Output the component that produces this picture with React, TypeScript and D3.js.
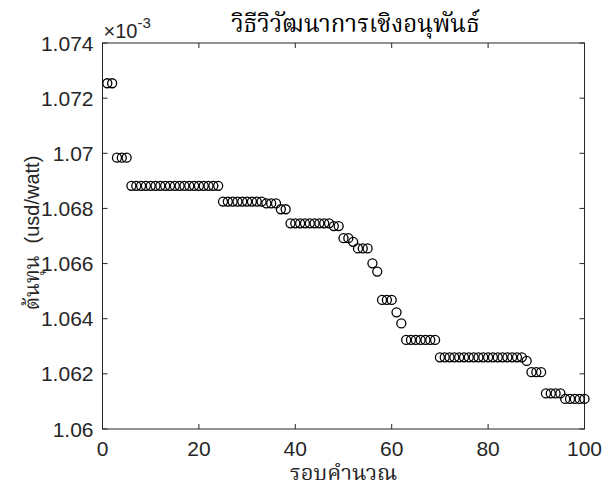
import React from 'react';
import * as d3 from 'd3';

// cost per iteration, in units of 1e-3 usd/watt
const costs: number[] = [
  1.07254, 1.07254,
  1.06984, 1.06984, 1.06984,
  1.06882, 1.06882, 1.06882, 1.06882, 1.06882, 1.06882, 1.06882, 1.06882, 1.06882, 1.06882,
  1.06882, 1.06882, 1.06882, 1.06882, 1.06882, 1.06882, 1.06882, 1.06882, 1.06882,
  1.06825, 1.06825, 1.06825, 1.06825, 1.06825, 1.06825, 1.06825, 1.06825, 1.06825,
  1.06818, 1.06818, 1.06818,
  1.06797, 1.06797,
  1.06746, 1.06746, 1.06746, 1.06746, 1.06746, 1.06746, 1.06746, 1.06746, 1.06746,
  1.06736, 1.06736,
  1.06692, 1.06692,
  1.06679,
  1.06655, 1.06655, 1.06655,
  1.06601,
  1.06571,
  1.06468, 1.06468, 1.06468,
  1.06423,
  1.06383,
  1.06323, 1.06323, 1.06323, 1.06323, 1.06323, 1.06323, 1.06323,
  1.0626, 1.0626, 1.0626, 1.0626, 1.0626, 1.0626, 1.0626, 1.0626, 1.0626,
  1.0626, 1.0626, 1.0626, 1.0626, 1.0626, 1.0626, 1.0626, 1.0626, 1.0626,
  1.06247,
  1.06206, 1.06206, 1.06206,
  1.06129, 1.06129, 1.06129, 1.06129,
  1.06109, 1.06109, 1.06109, 1.06109, 1.06109,
];

const xTicks = [0, 20, 40, 60, 80, 100];
const yTicks = [1.06, 1.062, 1.064, 1.066, 1.068, 1.07, 1.072, 1.074];
const yTickLabels = ['1.06', '1.062', '1.064', '1.066', '1.068', '1.07', '1.072', '1.074'];

const title = 'วิธีวิวัฒนาการเชิงอนุพันธ์';
const xLabel = 'รอบคำนวณ';
const yLabelThai = 'ต้นทุน';
const yLabelUnit = '(usd/watt)';

const W = 611;
const H = 492;
const left = 102.5, right = 584.5, top = 43, bottom = 429;
const axisColor = '#262626';
const font = 'Arial, "Liberation Sans", Helvetica, sans-serif';
const thaiFont = '"Noto Serif Thai", "Noto Sans Thai Looped", serif';

const App = () => {
  const x = d3.scaleLinear().domain([0, 100]).range([left, right]);
  const y = d3.scaleLinear().domain([1.06, 1.074]).range([bottom, top]);
  const tl = 5;

  return (
    <svg width={W} height={H} style={{ position: 'absolute', left: 0, top: 0, background: '#fff' }}>
      <rect x={0} y={0} width={W} height={H} fill="#fff" />
      {/* box */}
      <rect x={left} y={top} width={right - left} height={bottom - top} fill="none" stroke={axisColor} strokeWidth={1} />
      {xTicks.map((t) => (
        <g key={'x' + t}>
          <line x1={x(t)} x2={x(t)} y1={bottom} y2={bottom - tl} stroke={axisColor} />
          <line x1={x(t)} x2={x(t)} y1={top} y2={top + tl} stroke={axisColor} />
          <text x={x(t)} y={bottom + 27} textAnchor="middle" fontFamily={font} fontSize={21} fill={axisColor}>{t}</text>
        </g>
      ))}
      {yTicks.map((t, i) => (
        <g key={'y' + t}>
          <line x1={left} x2={left + tl} y1={y(t)} y2={y(t)} stroke={axisColor} />
          <line x1={right} x2={right - tl} y1={y(t)} y2={y(t)} stroke={axisColor} />
          <text x={left - 9} y={y(t) + 7.5} textAnchor="end" fontFamily={font} fontSize={21} fill={axisColor}>{yTickLabels[i]}</text>
        </g>
      ))}
      <text x={left + 1} y={38} fontFamily={font} fontSize={20} fill={axisColor}>
        ×10<tspan dy={-10} fontSize={15}>-3</tspan>
      </text>
      {costs.map((c, i) => (
        <circle key={i} cx={x(i + 1)} cy={y(c)} r={4.5} fill="none" stroke="#000" strokeWidth={1.3} />
      ))}
      <text x={(left + right) / 2 + 12} y={32} textAnchor="middle" fontFamily={thaiFont} fontSize={24} fill="#000">{title}</text>
      <text x={(left + right) / 2} y={480} textAnchor="middle" fontFamily={thaiFont} fontSize={22} fill={axisColor}>{xLabel}</text>
      <text transform={`translate(39,233) rotate(-90)`} textAnchor="middle" fill={axisColor}>
        <tspan fontFamily={thaiFont} fontSize={21}>{yLabelThai}</tspan>
        <tspan fontFamily={font} fontSize={20} dx={12}>{yLabelUnit}</tspan>
      </text>
    </svg>
  );
};

export default App;
